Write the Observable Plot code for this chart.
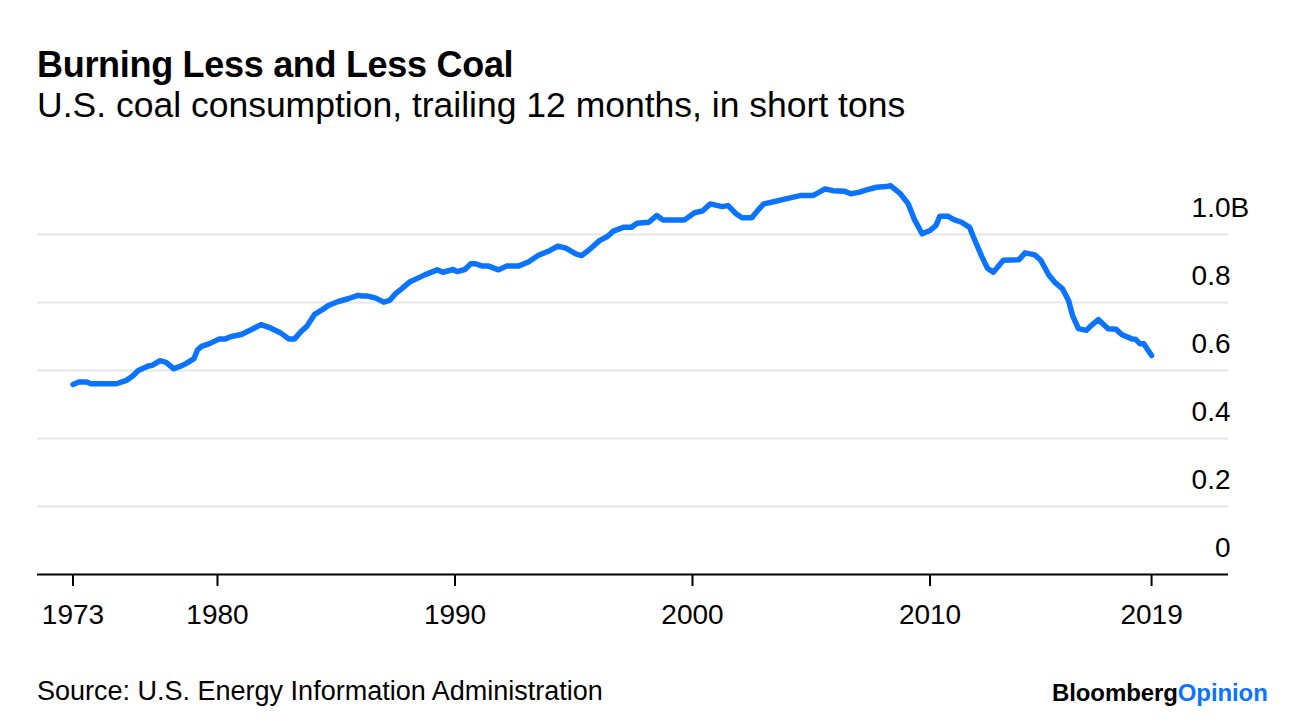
<!DOCTYPE html>
<html>
<head>
<meta charset="utf-8">
<script src="https://cdn.jsdelivr.net/npm/d3@7"></script>
<script src="https://cdn.jsdelivr.net/npm/@observablehq/plot@0.6"></script>
<style>
  html, body { margin: 0; padding: 0; background: #fff; }
  #page { position: relative; width: 1296px; height: 720px; overflow: hidden; font-family: "Liberation Sans", Arial, sans-serif; color: #000; }
  #title { position: absolute; left: 37px; top: 44px; font-size: 36px; font-weight: bold; letter-spacing: -0.3px; white-space: nowrap; }
  #subtitle { position: absolute; left: 37px; top: 85px; font-size: 35.5px; white-space: nowrap; }
  #chart { position: absolute; left: 0; top: 140px; }
  #source { position: absolute; left: 37px; top: 676px; font-size: 27px; white-space: nowrap; }
  #logo { position: absolute; left: 1052px; top: 679px; font-size: 24px; font-weight: bold; letter-spacing: -0.1px; white-space: nowrap; }
  #logo span { color: #0b74ff; }
</style>
</head>
<body>
<div id="page">
  <div id="title">Burning Less and Less Coal</div>
  <div id="subtitle">U.S. coal consumption, trailing 12 months, in short tons</div>
  <div id="chart"></div>
  <div id="source">Source: U.S. Energy Information Administration</div>
  <div id="logo">Bloomberg<span>Opinion</span></div>
</div>
<script>
// Month of trailing-12-month total (YYYY-MM)
const months = [
  "1973-12","1974-03","1974-07","1974-09","1975-03","1975-10","1976-03","1976-06","1976-09","1977-02",
  "1977-04","1977-08","1977-11","1978-03","1978-06","1978-09","1979-01","1979-03","1979-05","1979-09",
  "1980-02","1980-05","1980-08","1981-01","1981-07","1981-11","1982-03","1982-09","1983-01","1983-04",
  "1983-07","1983-10","1984-02","1984-06","1984-09","1985-02","1985-07","1985-12","1986-02","1986-05",
  "1986-09","1987-01","1987-04","1987-07","1987-10","1988-02","1988-06","1988-10","1989-04","1989-07",
  "1989-12","1990-02","1990-06","1990-09","1990-11","1991-03","1991-06","1991-11","1992-03","1992-09",
  "1993-02","1993-07","1994-01","1994-05","1994-09","1995-02","1995-05","1995-09","1996-02","1996-06",
  "1996-09","1997-02","1997-06","1997-09","1998-03","1998-07","1998-10","1999-09","2000-02","2000-06",
  "2000-10","2001-04","2001-07","2001-11","2002-02","2002-07","2002-10","2003-01","2003-05","2003-10",
  "2004-04","2004-08","2005-02","2005-04","2005-08","2005-12","2006-06","2006-09","2007-01","2007-05",
  "2007-10","2008-03","2008-05","2008-10","2009-02","2009-05","2009-09","2010-01","2010-04","2010-06",
  "2010-10","2011-01","2011-05","2011-09","2011-11","2012-03","2012-06","2012-09","2013-02","2013-10",
  "2014-01","2014-06","2014-09","2015-01","2015-04","2015-08","2015-11","2016-01","2016-04","2016-08",
  "2016-10","2017-02","2017-07","2017-11","2018-02","2018-07","2018-09","2018-11","2019-01","2019-05"
];
// Consumption, billions of short tons
const consumption = [
  0.559,0.566,0.566,0.561,0.561,0.561,0.571,0.583,0.600,0.613,
  0.615,0.629,0.624,0.605,0.612,0.620,0.634,0.661,0.671,0.679,
  0.693,0.693,0.700,0.706,0.723,0.735,0.727,0.710,0.693,0.693,
  0.713,0.729,0.765,0.779,0.791,0.803,0.811,0.821,0.819,0.819,
  0.813,0.801,0.806,0.826,0.840,0.860,0.871,0.882,0.896,0.889,
  0.897,0.891,0.897,0.914,0.914,0.907,0.907,0.896,0.907,0.907,
  0.919,0.938,0.953,0.966,0.960,0.943,0.938,0.956,0.982,0.994,
  1.010,1.021,1.021,1.033,1.036,1.056,1.043,1.043,1.064,1.069,
  1.090,1.082,1.085,1.061,1.049,1.049,1.071,1.090,1.095,1.102,
  1.110,1.115,1.115,1.121,1.134,1.129,1.127,1.120,1.124,1.131,
  1.139,1.141,1.144,1.120,1.090,1.046,1.002,1.012,1.026,1.054,
  1.054,1.044,1.036,1.021,0.992,0.938,0.901,0.889,0.924,0.926,
  0.946,0.940,0.924,0.881,0.860,0.840,0.806,0.762,0.723,0.718,
  0.730,0.750,0.723,0.721,0.705,0.693,0.691,0.679,0.679,0.644
];
// Axis ticks
const xTickMonths = ["1973-12","1980-01","1990-01","2000-01","2010-01","2019-05"];
const yTicks = [0, 0.2, 0.4, 0.6, 0.8, 1.0];
const yTickLabels = ["0", "0.2", "0.4", "0.6", "0.8", "1.0"];

const parse = d3.utcParse("%Y-%m");
const data = months.map((m, i) => ({date: parse(m), value: consumption[i]}));
const xTicks = xTickMonths.map(parse);
const yLabelData = yTicks.map((v, i) => ({v, label: yTickLabels[i]}));

const xDomain = [new Date(Date.UTC(1972, 5, 3)), new Date(Date.UTC(2022, 6, 27))];
const blue = "#0b74ff";

const chart = Plot.plot({
  width: 1296,
  height: 500,
  marginLeft: 37,
  marginRight: 68,
  marginTop: 26,
  marginBottom: 66,
  style: {fontFamily: "'Liberation Sans', Arial, sans-serif", background: "transparent", overflow: "visible"},
  x: {type: "utc", domain: xDomain, axis: null},
  y: {domain: [0, 1.2], axis: null},
  marks: [
    Plot.ruleY(yTicks.filter(v => v > 0), {stroke: "#e6e6e6", strokeWidth: 2}),
    Plot.ruleY([0], {stroke: "#000", strokeWidth: 2}),
    Plot.ruleX(xTicks, {x: d => d, y1: 0, y2: 0, insetBottom: -12, stroke: "#000", strokeWidth: 2}),
    Plot.text(xTicks, {x: d => d, y: 0, text: d => d3.utcFormat("%Y")(d), dy: 41, fontSize: 28, fill: "#000"}),
    Plot.text(yLabelData, {x: () => xDomain[1], y: "v", text: "label", textAnchor: "end", dx: 2, dy: -26, fontSize: 28, fill: "#000"}),
    Plot.text(yLabelData.filter(d => d.v === 1.0), {x: () => xDomain[1], y: "v", text: () => "B", textAnchor: "start", dx: 2, dy: -26, fontSize: 28, fill: "#000"}),
    Plot.line(data, {x: "date", y: "value", stroke: blue, strokeWidth: 5.5, strokeLinejoin: "round", strokeLinecap: "round"})
  ]
});
document.getElementById("chart").appendChild(chart);
</script>
</body>
</html>
